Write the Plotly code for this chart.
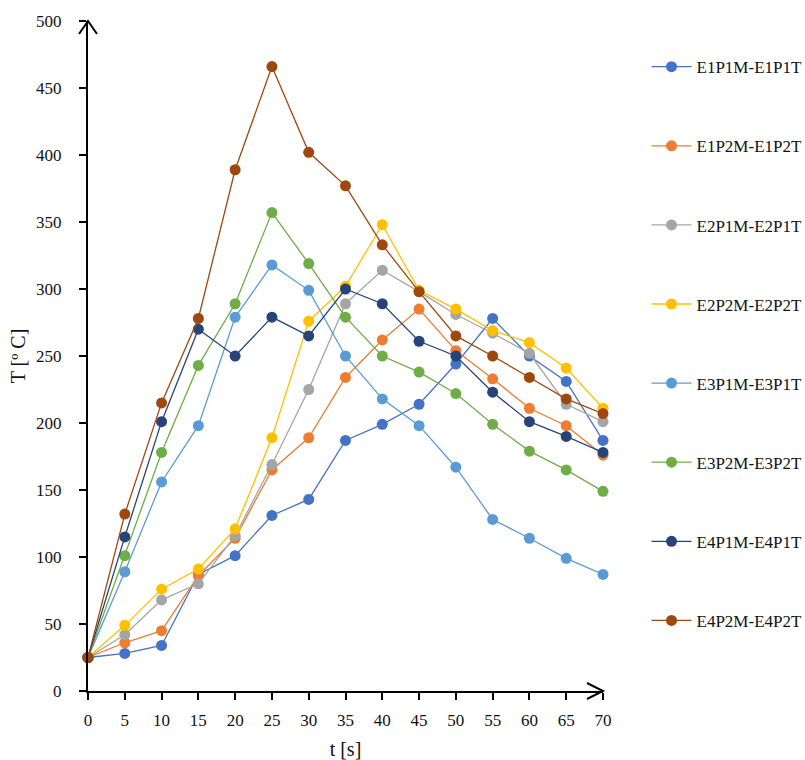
import plotly.graph_objects as go

t = [0, 5, 10, 15, 20, 25, 30, 35, 40, 45, 50, 55, 60, 65, 70]

names = ["E1P1M-E1P1T", "E1P2M-E1P2T", "E2P1M-E2P1T", "E2P2M-E2P2T",
         "E3P1M-E3P1T", "E3P2M-E3P2T", "E4P1M-E4P1T", "E4P2M-E4P2T"]

e1p1 = [25, 28, 34, 87, 101, 131, 143, 187, 199, 214, 244, 278, 250, 231, 187]
e1p2 = [25, 36, 45, 86, 114, 165, 189, 234, 262, 285, 254, 233, 211, 198, 176]
e2p1 = [25, 42, 68, 80, 116, 169, 225, 289, 314, 298, 281, 267, 252, 214, 201]
e2p2 = [25, 49, 76, 91, 121, 189, 276, 302, 348, 299, 285, 269, 260, 241, 211]
e3p1 = [25, 89, 156, 198, 279, 318, 299, 250, 218, 198, 167, 128, 114, 99, 87]
e3p2 = [25, 101, 178, 243, 289, 357, 319, 279, 250, 238, 222, 199, 179, 165, 149]
e4p1 = [25, 115, 201, 270, 250, 279, 265, 300, 289, 261, 250, 223, 201, 190, 178]
e4p2 = [25, 132, 215, 278, 389, 466, 402, 377, 333, 298, 265, 250, 234, 218, 207]

series = [e1p1, e1p2, e2p1, e2p2, e3p1, e3p2, e4p1, e4p2]
colors = ["#4472C4", "#ED7D31", "#A5A5A5", "#FFC000",
          "#5B9BD5", "#70AD47", "#264478", "#9E480E"]

x_ticks = list(range(0, 71, 5))
y_ticks = list(range(0, 501, 50))

FONT = "Liberation Serif, Times New Roman, serif"
TXT = "#111111"

fig = go.Figure()
for name, vals, col in zip(names, series, colors):
    fig.add_trace(go.Scatter(
        x=t, y=vals, name=name, mode="lines+markers",
        line=dict(color=col, width=1.3),
        marker=dict(color=col, size=11),
        legendgroup=name, cliponaxis=False,
    ))

# axis arrowheads (open chevrons), anchored in paper coords so they are not clipped
fig.add_shape(type="path", xref="paper", yref="paper", xsizemode="pixel", ysizemode="pixel",
              xanchor=0, yanchor=1, path="M -9,-13 L 0,0 L 9,-13",
              line=dict(color="black", width=2))
fig.add_shape(type="path", xref="paper", yref="paper", xsizemode="pixel", ysizemode="pixel",
              xanchor=1, yanchor=0, path="M -16,-8 L 0,0 L -16,8",
              line=dict(color="black", width=2))

fig.update_layout(
    width=805, height=760,
    margin=dict(l=88, r=202, t=21, b=69, autoexpand=False),
    paper_bgcolor="white", plot_bgcolor="white",
    font=dict(family=FONT, size=17, color=TXT),
    showlegend=True,
    legend=dict(x=1.0845, xanchor="left", y=0.958, yanchor="top",
                tracegroupgap=54, font=dict(family=FONT, size=17, color=TXT),
                itemwidth=40),
    xaxis=dict(range=[0, 70], tickvals=x_ticks, showgrid=False, zeroline=False,
               showline=True, linecolor="black", linewidth=2, automargin=False,
               ticks="outside", ticklen=7, tickwidth=2, tickcolor="black",
               ticklabelstandoff=6,
               title=dict(text="t [s]", standoff=18), tickfont=dict(size=17)),
    yaxis=dict(range=[0, 500], tickvals=y_ticks, showgrid=False, zeroline=False,
               showline=True, linecolor="black", linewidth=2, automargin=False,
               ticks="outside", ticklen=7, tickwidth=2, tickcolor="black",
               ticklabelstandoff=14,
               title=dict(text="T [º C]", standoff=5), tickfont=dict(size=17)),
)

fig.write_html("out.html")
